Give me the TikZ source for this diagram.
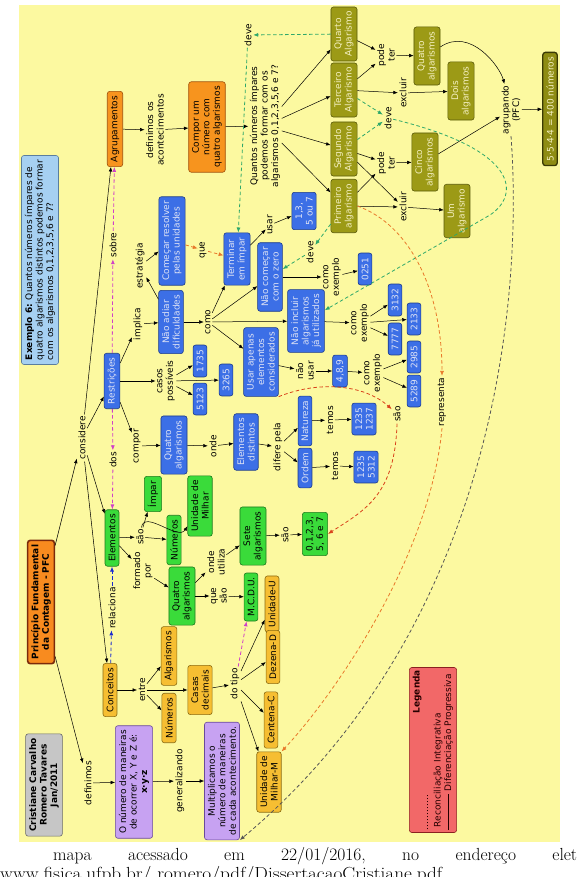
\documentclass[tikz,border=0pt]{standalone}
\usepackage{fontspec}
\newfontfamily\mapfam{DejaVu Sans}
\usetikzlibrary{arrows.meta}
\definecolor{bgc}{HTML}{FCF9A0}
\definecolor{orF}{HTML}{F7941E}\definecolor{orD}{HTML}{A0500A}
\definecolor{pfF}{HTML}{F88B1F}\definecolor{pfD}{HTML}{7A2A0A}
\definecolor{blF}{HTML}{3C6FE6}\definecolor{blD}{HTML}{1A3A8A}\definecolor{blT}{HTML}{DDE2F5}
\definecolor{lbF}{HTML}{A6D0F2}\definecolor{lbD}{HTML}{5A7E9E}
\definecolor{olF}{HTML}{9C9A16}\definecolor{olD}{HTML}{5A5A08}\definecolor{olT}{HTML}{F4F0C0}
\definecolor{rsF}{HTML}{8E8C12}\definecolor{rsD}{HTML}{3A3A05}
\definecolor{grF}{HTML}{3ADB3A}\definecolor{grD}{HTML}{1E7A1E}
\definecolor{yeF}{HTML}{F6BE32}\definecolor{yeD}{HTML}{8A6A10}
\definecolor{puF}{HTML}{C7A2F2}\definecolor{puD}{HTML}{6A4A9A}
\definecolor{gyF}{HTML}{C6C6C6}\definecolor{gyD}{HTML}{6A6A6A}
\definecolor{lgF}{HTML}{F26868}\definecolor{lgD}{HTML}{8A2020}
\definecolor{dG}{HTML}{2EA86A}\definecolor{dO}{HTML}{E8782A}\definecolor{dR}{HTML}{D8401A}
\definecolor{dM}{HTML}{D040C8}\definecolor{dB}{HTML}{1A2AD0}\definecolor{dK}{HTML}{555555}
\newcommand\mapf{\mapfam\fontsize{9}{10.5}\selectfont}
\newcommand\dashseg{\hbox to 36pt{\xleaders\hbox to 3pt{\hss\rule[2.6pt]{1.8pt}{0.7pt}\hss}\hfill}}
\tikzset{
  bx/.style={draw, rounded corners=2.5pt, rotate=90, align=center, inner xsep=4.5pt, inner ysep=3.5pt, line width=0.6pt},
  lb/.style={rotate=90, align=center, inner sep=1.5pt},
  ob/.style={bx, fill=orF, draw=orD},
  bb/.style={bx, fill=blF, draw=blD, text=blT},
  olb/.style={bx, fill=olF, draw=olD, text=olT},
  gb/.style={bx, fill=grF, draw=grD},
  yb/.style={bx, fill=yeF, draw=yeD},
  pb/.style={bx, fill=puF, draw=puD},
  ar/.style={-{Latex[length=4.5pt,width=3.6pt]}, line width=0.5pt},
  dsh/.style={-{Latex[length=5pt,width=4pt]}, line width=0.8pt, dash pattern=on 3.5pt off 2.5pt},
  dg/.style={dsh, draw=dG},
  do/.style={dsh, draw=dO},
  dr/.style={dsh, draw=dR},
  dm/.style={dsh, draw=dM},
  db/.style={dsh, draw=dB},
  dk/.style={dsh, draw=dK},
}
\begin{document}
\begin{tikzpicture}[x=1pt,y=1pt,font=\mapf]
\useasboundingbox (0,0) rectangle (576,-877);
\fill[bgc] (19,-5) rectangle (560,-842);

% ---- top-left / orange
\node[bx, fill=lbF, draw=lbD, align=left] (ex) at (40,-260) {\textbf{Exemplo 6:} Quantos números ímpares de\\quatro algarismos distintos podemos formar\\com os algarismos 0,1,2,3,5,6 e 7?};
\node[ob] (agrup) at (115,-129) {Agrupamentos};
\node[lb] (defac) at (155,-130) {definimos os\\acontecimentos};
\node[ob] (compor) at (207,-127) {Compor um\\número com\\quatro algarismos};
\node[lb] (quantos) at (265,-126) {Quantos números ímpares\\podemos formar com os\\algarismos 0,1,2,3,5,6 e 7?};

% ---- olive
\node[olb] (quarto) at (344,-34) {Quarto\\Algarismo};
\node[olb] (terc) at (344,-90) {Terceiro\\Algarismo};
\node[olb] (seg) at (344,-149) {Segundo\\Algarismo};
\node[olb] (prim) at (344,-206) {Primeiro\\algarismo};
\node[lb] (pode1) at (386,-55) {pode\\ter};
\node[olb] (qalg) at (427,-56) {Quatro\\algarismos};
\node[lb] (exc1) at (403,-93) {excluir};
\node[olb] (dois) at (461,-91) {Dois\\algarismos};
\node[lb] (deve3) at (388,-118) {deve};
\node[lb] (pode2) at (386,-163) {pode\\ter};
\node[olb] (cinco) at (425,-162) {Cinco\\algarismos};
\node[lb] (exc2) at (403,-207) {excluir};
\node[olb] (um) at (457,-211) {Um\\algarismo};
\node[lb] (agrup2) at (511,-110) {agrupando\\(PFC)};
\node[bx, fill=rsF, draw=rsD, line width=1.3pt, text=olT] (res) at (550,-109) {5·5·4·4 = 400 números};
\node[lb] (deve1) at (248,-35) {deve};
\node[lb] (deve2) at (310,-252) {deve};

% ---- blue
\node[bb] (comecar) at (172,-241) {Começar resolver\\pelas unidades};
\node[lb] (estr) at (140,-266) {estratégia};
\node[bb] (naoadiar) at (171,-322) {Não adiar\\dificuldades};
\node[lb] (implica) at (138,-324) {implica};
\node[bb] (restr) at (112,-381) {Restrições};
\node[lb] (casos) at (166,-381) {casos\\possíveis};
\node[bb] (n1735) at (200,-361) {1735};
\node[bb] (n5123) at (200,-399) {5123};
\node[bb] (n3265) at (226,-380) {3265};
\node[lb] (como) at (208,-322) {como};
\node[bb] (term) at (237,-259) {Terminar\\em ímpar};
\node[lb] (que) at (203,-250) {que};
\node[lb] (usar) at (270,-225) {usar};
\node[bb] (n135) at (304,-211) {1,3,\\5 ou 7};
\node[bb] (naocom) at (270,-277) {Não começar\\com o zero};
\node[lb] (ce1) at (332,-277) {como\\exemplo};
\node[bb] (n0251) at (365,-269) {0251};
\node[bb] (naoinc) at (306,-321) {Não incluir\\algarismos\\já utilizados};
\node[lb] (ce2) at (360,-323) {como\\exemplo};
\node[bb] (n3132) at (395,-300) {3132};
\node[bb] (n2133) at (414,-319) {2133};
\node[bb] (n7777) at (395,-339) {7777};
\node[bb] (n2985) at (414,-357) {2985};
\node[bb] (n5289) at (414,-391) {5289};
\node[lb] (ce3) at (373,-373) {como\\exemplo};
\node[bb] (n489) at (340,-371) {4,8,9};
\node[lb] (naousar) at (305,-371) {não\\usar};
\node[bb] (usarap) at (261,-362) {Usar apenas\\elementos\\considerados};
\node[bb] (qalgb) at (174,-445) {Quatro\\algarismos};
\node[lb] (compor2) at (137,-446) {compor};
\node[lb] (onde) at (213,-446) {onde};
\node[bb] (eldist) at (246,-442) {Elementos\\distintos};
\node[lb] (difere) at (278,-447) {difere pela};
\node[bb] (natur) at (305,-421) {Natureza};
\node[bb] (ordem) at (305,-468) {Ordem};
\node[lb] (temos1) at (330,-420) {temos};
\node[bb] (nA) at (364,-419) {1235\\1237};
\node[lb] (temos2) at (335,-466) {temos};
\node[bb] (nB) at (366,-467) {1235\\5312};

% ---- green
\node[gb] (elem) at (112,-538) {Elementos};
\node[gb] (impar) at (153,-494) {Ímpar};
\node[gb] (numg) at (174,-540) {Números};
\node[gb] (udm) at (200,-506) {Unidade de\\Milhar};
\node[lb] (sao1) at (140,-537) {são};
\node[lb] (formado) at (143,-571) {formado\\por};
\node[gb] (qalgg) at (182,-596) {Quatro\\algarismos};
\node[lb] (ondeut) at (216,-562) {onde\\utiliza};
\node[gb] (sete) at (253,-536) {Sete\\algarismos};
\node[lb] (sao2) at (285,-535) {são};
\node[gb] (digs) at (315,-534) {0,1,2,3,\\5, 6 e 7};
\node[lb] (quesao) at (219,-596) {que\\são};
\node[gb] (mcdu) at (251,-597) {M.C.D.U.};

% ---- gold
\node[yb] (conc) at (110,-690) {Conceitos};
\node[yb] (algy) at (169,-656) {Algarismos};
\node[yb] (numy) at (169,-718) {Números};
\node[lb] (entre) at (142,-690) {entre};
\node[yb] (casas) at (200,-690) {Casas\\decimais};
\node[lb] (dotipo) at (235,-684) {do tipo};
\node[yb] (uu) at (272,-604) {Unidade-U};
\node[yb] (dd) at (273,-657) {Dezena-D};
\node[yb] (cc) at (271,-720) {Centena-C};
\node[yb] (umm) at (269,-782) {Unidade de\\Milhar-M};

% ---- purple, gray, PFC
\node[pb] (onum) at (134,-782) {O número de maneiras\\de ocorrer X, Y e Z é:\\\textbf{x·y·z}};
\node[lb] (definimos) at (88,-783) {definimos};
\node[lb] (general) at (180,-781) {generalizando};
\node[pb] (multi) at (222,-781) {Multiplicamos o\\número de maneiras\\de cada acontecimento.};
\node[bx, fill=gyF, draw=gyD] (autor) at (44,-785) {\textbf{Cristiane Carvalho}\\\textbf{Romero Tavares}\\\textbf{Jan/2011}};
\node[bx, fill=pfF, draw=pfD, line width=1.6pt] (pfc) at (41,-602) {\textbf{Princípio Fundamental}\\\textbf{da Contagem - PFC}};
\node[lb] (consid) at (82,-438) {considere};

% ---- dashed labels
\node[lb] (sobre) at (113,-245) {sobre};
\node[lb] (dos) at (113,-460) {dos};
\node[lb] (relac) at (112,-608) {relaciona};
\node[lb] (sao3) at (397,-414) {são};
\node[lb] (repr) at (442,-402) {representa};

% ---- legend
\node[bx, fill=lgF, draw=lgD, text width=160pt, inner xsep=2.5pt, align=left, text=black!85!red] (leg) at (433,-750)
 {\hspace*{\fill}\textbf{Legenda}\hspace*{\fill}\\\dashseg\ Reconciliação Integrativa\\\rule[2.6pt]{36pt}{0.5pt} Diferenciação Progressiva};

% ---- solid connectors
\draw[ar] (agrup) -- (defac); \draw[ar] (defac) -- (compor); \draw[ar] (compor) -- (quantos);
\draw[ar] (quantos) -- (quarto); \draw[ar] (quantos) -- (terc); \draw[ar] (quantos) -- (seg); \draw[ar] (quantos) -- (prim);
\draw[ar] (quarto) -- (pode1); \draw[ar] (terc) -- (pode1); \draw[ar] (pode1) -- (qalg);
\draw[ar] (terc) -- (exc1); \draw[ar] (exc1) -- (dois);
\draw[ar] (seg) -- (pode2); \draw[ar] (prim) -- (pode2); \draw[ar] (pode2) -- (cinco);
\draw[ar] (seg) -- (exc2); \draw[ar] (prim) -- (exc2); \draw[ar] (exc2) -- (um);
\draw[ar] (qalg) to[out=0,in=90] (agrup2); \draw[ar] (cinco) -- (agrup2); \draw[ar] (agrup2) -- (res);

\draw[ar] (restr) -- (implica); \draw[ar] (implica) -- (naoadiar); \draw[ar] (naoadiar) -- (estr); \draw[ar] (estr) -- (comecar);
\draw[ar] (restr) -- (casos); \draw[ar] (casos) -- (n1735); \draw[ar] (casos) -- (n5123); \draw[ar] (casos) -- (n3265);
\draw[ar] (restr) -- (compor2); \draw[ar] (compor2) -- (qalgb); \draw[ar] (qalgb) -- (onde); \draw[ar] (onde) -- (eldist);
\draw[ar] (eldist) -- (difere); \draw[ar] (difere) -- (natur); \draw[ar] (difere) -- (ordem);
\draw[ar] (natur) -- (temos1); \draw[ar] (temos1) -- (nA); \draw[ar] (ordem) -- (temos2); \draw[ar] (temos2) -- (nB);
\draw[ar] (naoadiar) -- (como); \draw[ar] (como) -- (term); \draw[ar] (como) -- (naocom); \draw[ar] (como) -- (naoinc); \draw[ar] (como) -- (usarap);
\draw[ar] (term) -- (usar); \draw[ar] (usar) -- (n135);
\draw[ar] (naocom) -- (ce1); \draw[ar] (ce1) -- (n0251);
\draw[ar] (naoinc) -- (ce2); \draw[ar] (ce2) -- (n3132); \draw[ar] (ce2) -- (n2133); \draw[ar] (ce2) -- (n7777);
\draw[ar] (usarap) -- (naousar); \draw[ar] (naousar) -- (n489); \draw[ar] (n489) -- (ce3); \draw[ar] (ce3) -- (n2985); \draw[ar] (ce3) -- (n5289);

\draw[ar] (elem) -- (sao1); \draw[ar] (sao1) -- (impar); \draw[ar] (sao1) -- (numg); \draw[ar] (sao1) to[out=70,in=190] (udm);
\draw[ar] (elem) -- (formado); \draw[ar] (formado) -- (qalgg); \draw[ar] (qalgg) -- (ondeut); \draw[ar] (ondeut) -- (sete);
\draw[ar] (sete) -- (sao2); \draw[ar] (sao2) -- (digs); \draw[ar] (qalgg) -- (quesao); \draw[ar] (quesao) -- (mcdu);

\draw[ar] (conc) -- (entre); \draw[ar] (entre) -- (algy); \draw[ar] (entre) -- (numy); \draw[ar] (entre) -- (casas);
\draw[ar] (casas) -- (dotipo); \draw[ar] (dotipo) -- (uu); \draw[ar] (dotipo) -- (dd); \draw[ar] (dotipo) -- (cc); \draw[ar] (dotipo) -- (umm);
\draw[ar] (pfc) -- (definimos); \draw[ar] (definimos) -- (onum); \draw[ar] (onum) -- (general); \draw[ar] (general) -- (multi);
\draw[ar] (pfc) -- (consid); \draw[ar] (consid) -- (agrup); \draw[ar] (consid) -- (restr); \draw[ar] (consid) -- (elem); \draw[ar] (consid) -- (conc);

% ---- dashed connectors
\draw[dg] (quarto) -- (deve1); \draw[dg] (deve1) -- (term);
\draw[dg] (prim) -- (deve2); \draw[dg] (deve2) -- (naocom);
\draw[dg] (terc) -- (deve3); \draw[dg] (seg) -- (deve3);
\draw[dg] (deve3) .. controls (520,-150) and (520,-195) .. (490,-215) -- (naoinc);
\draw[do] (comecar) -- (que); \draw[do] (que) -- (term);
\draw[do] (prim.south) .. controls (410,-225) and (442,-290) .. (repr.east);
\draw[do] (repr.west) .. controls (430,-560) and (330,-700) .. (umm.south east);
\draw[dr] (usarap.south west) .. controls (320,-380) and (365,-385) .. (sao3);
\draw[dr] (sao3.west) .. controls (395,-495) and (365,-510) .. (digs.south);
\draw[dm] (restr) -- (sobre); \draw[dm] (sobre) -- (agrup);
\draw[dm] (restr) -- (dos); \draw[dm] (dos) -- (elem);
\draw[dm] (dotipo) -- (mcdu);
\draw[db] (conc) -- (relac); \draw[db] (relac) -- (elem);
\draw[dk] (agrup2.west) .. controls (525,-330) and (480,-640) .. (multi.south west);

% ---- caption text below the map
\node[anchor=base west, inner sep=0, font=\rmfamily\fontsize{17.5}{20}\selectfont] (cap1) at (53,-860)
 {\hbox to 524pt{mapa\hfill acessado\hfill em\hfill 22/01/2016,\hfill no\hfill endereço\hfill elet}};
\node[anchor=base west, inner sep=0, font=\rmfamily\fontsize{17.5}{20}\selectfont] (cap2) at (0,-879)
 {\scalebox{1.1}[1]{www.fisica.ufpb.br/ romero/pdf/DissertacaoCristiane.pdf}};
\end{tikzpicture}
\end{document}
